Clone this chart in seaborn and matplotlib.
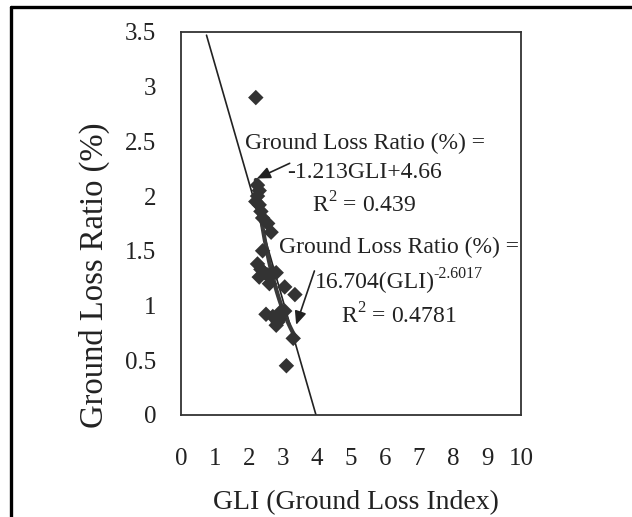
import numpy as np
import pandas as pd
import matplotlib
matplotlib.use('Agg')
import matplotlib.pyplot as plt
import seaborn as sns
from matplotlib.lines import Line2D

# measured points (GLI, ground loss ratio %)
gli = [2.2, 3.1, 2.25, 2.3, 2.25, 2.2, 2.3, 2.35, 2.4, 2.55, 2.65, 2.25, 2.35, 2.3,
       2.45, 2.55, 2.7, 2.8, 2.6, 3.05, 3.35, 2.5, 2.7, 2.85, 2.95, 2.9, 3.05, 3.3, 2.8, 2.4]
loss = [2.9, 0.45, 2.1, 2.05, 2.0, 1.95, 1.92, 1.86, 1.8, 1.75, 1.67, 1.38, 1.33, 1.26,
        1.3, 1.28, 1.3, 1.3, 1.2, 1.17, 1.1, 0.92, 0.9, 0.85, 0.95, 0.88, 0.95, 0.7, 0.82, 1.5]

# linear trendline as drawn (end points)
lin_x = [0.75, 3.97]
lin_y = [3.47, 0.0]

# power fit: 16.704 * GLI^-2.6017 over data range
pow_a = 16.704
pow_b = -2.6017
pow_range = [2.2, 3.4]

xticks = [0, 1, 2, 3, 4, 5, 6, 7, 8, 9, 10]
yticks = [0, 0.5, 1, 1.5, 2, 2.5, 3, 3.5]
ytick_labels = ['0', '0.5', '1', '1.5', '2', '2.5', '3', '3.5']

sns.set_style('white')
plt.rcParams['font.family'] = ['Liberation Serif', 'DejaVu Serif']
plt.rcParams['mathtext.fontset'] = 'custom'
plt.rcParams['mathtext.rm'] = 'Liberation Serif'

fig = plt.figure(figsize=(6.32, 5.17), dpi=100)
ax = fig.add_axes([0.2864, 0.1973, 0.538, 0.741])

df = pd.DataFrame({'GLI': gli, 'loss': loss})
ax.plot(lin_x, lin_y, color='#222222', lw=1.2, zorder=2)
px = np.linspace(pow_range[0], pow_range[1], 50)
ax.plot(px, pow_a * px ** pow_b, color='#3a3a3a', lw=3.0, zorder=2)
sns.scatterplot(data=df, x='GLI', y='loss', marker='D', s=62, color='#333333',
                edgecolor='none', ax=ax, zorder=3)

ax.set_xlim(0, 10)
ax.set_ylim(0, 3.5)
ax.set_xticks(xticks)
ax.set_yticks(yticks)
ax.set_yticklabels(ytick_labels)
ax.tick_params(axis='y', direction='in', length=5, width=1, pad=18, labelsize=18, colors='#222222')
ax.tick_params(axis='x', direction='in', length=4, width=0.8, pad=24, labelsize=18, colors='#222222')
for s in ax.spines.values():
    s.set_color('#333333')
    s.set_linewidth(1.3)

ax.set_xlabel('GLI (Ground Loss Index)', fontsize=20, color='#222222')
ax.set_ylabel('Ground Loss Ratio (%)', fontsize=23.5, color='#222222')
ax.xaxis.set_label_coords(0.515, -0.195)
ax.yaxis.set_label_coords(-0.21, 0.366)

tkw = dict(fontsize=17, ha='center', va='center', color='#222222')
ax.text(5.4, 2.48, 'Ground Loss Ratio (%) =', **tkw)
ax.text(5.4, 2.22, '-1.213GLI+4.66', **tkw)
ax.text(5.4, 1.92, 'R$^2$ = 0.439', **tkw)
ax.text(6.4, 1.53, 'Ground Loss Ratio (%) =', **tkw)
main = ax.text(3.95, 1.21, '16.704(GLI)', fontsize=17, ha='left', va='center', color='#222222')
ax.annotate('-2.6017', xy=(0.985, 0.9), xycoords=main, fontsize=11.5,
            ha='left', va='center', color='#222222')
ax.text(6.4, 0.91, 'R$^2$ = 0.4781', **tkw)

akw = dict(arrowstyle='-|>,head_length=0.8,head_width=0.35', color='#222222', lw=1.2)
ax.annotate('', xy=(2.16, 2.15), xytext=(3.27, 2.31), arrowprops=akw)
ax.annotate('', xy=(3.36, 0.80), xytext=(3.95, 1.34), arrowprops=akw)

# outer frame of the figure
fig.add_artist(Line2D([0.0174, 0.0174], [0, 0.9865], transform=fig.transFigure, color='black', lw=2.4))
fig.add_artist(Line2D([0.0174, 1.0], [0.9865, 0.9865], transform=fig.transFigure, color='black', lw=2.4))

fig.savefig('out.png', dpi=100)
